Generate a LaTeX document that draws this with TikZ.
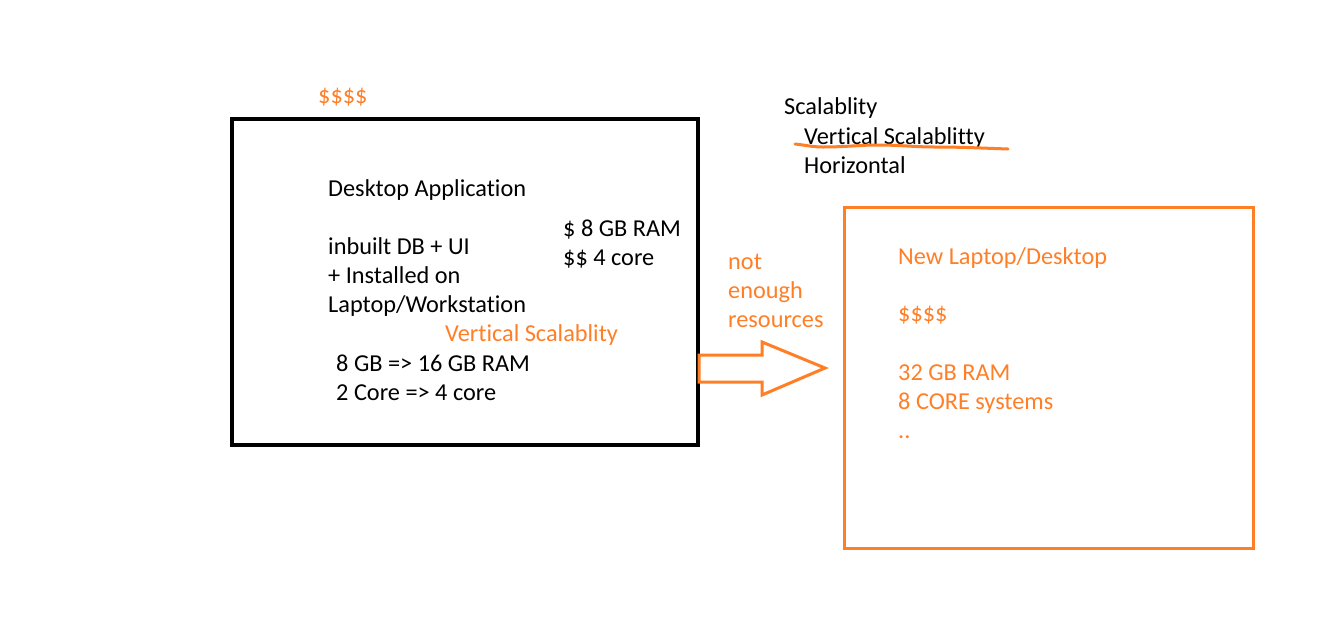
\documentclass[tikz,border=0pt]{standalone}
\usepackage{fontspec}
\setmainfont{Carlito}[Ligatures=NoCommon]
\definecolor{paintorange}{RGB}{255,127,39}
\begin{document}
\begin{tikzpicture}[x=1pt,y=-1pt,
  txt/.style={anchor=base west,inner sep=0pt,font=\fontsize{24.3}{29}\selectfont},
  otxt/.style={txt,text=paintorange},
  blackbox/.style={draw=black,line width=4pt},
  orangebox/.style={draw=paintorange,line width=3pt},
  bigarrow/.style={draw=paintorange,line width=3pt,line join=miter}]
\useasboundingbox[fill=white] (0,0) rectangle (1320,641);
% left box
\draw[blackbox] (232,119) rectangle (698,445);
% right box
\draw[orangebox] (844,207) rectangle (1253,548);
% arrow
\draw[bigarrow] (699,355) -- (762,355) -- (762,342) -- (825,368) -- (762,395) -- (762,382) -- (699,382) -- cycle;
% left texts
\node[otxt] (d1) at (318,103) {\$\$\$\$};
\node[txt] (t1) at (328,196) {Desktop Application};
\node[txt] (t2) at (328,254) {inbuilt DB + UI};
\node[txt] (t3) at (328,283) {+ Installed on};
\node[txt] (t4) at (328,312) {Laptop/Workstation};
\node[txt] (r1) at (563,236) {\$ 8 GB RAM};
\node[txt] (r2) at (563,265) {\$\$ 4 core};
\node[otxt] (vs) at (445,341) {Vertical Scalablity};
\node[txt] (u1) at (336,371) {8 GB => 16 GB RAM};
\node[txt] (u2) at (336,400) {2 Core => 4 core};
% middle
\node[otxt] (n1) at (728,269) {not};
\node[otxt] (n2) at (728,298) {enough};
\node[otxt] (n3) at (728,327) {resources};
% top right
\node[txt] (s1) at (784,114) {Scalablity};
\node[txt] (s2) at (804,144) {Vertical Scalablitty};
\node[txt] (s3) at (804,173) {Horizontal};
\draw[paintorange,line width=3pt,line cap=round] (795,144) .. controls (805,145) and (812,147) .. (823,147) .. controls (845,147) and (860,145) .. (877,145) .. controls (900,145) and (915,147) .. (935,147) .. controls (960,147) and (980,148) .. (1008,149);
% right box texts
\node[otxt] (o1) at (898,264) {New Laptop/Desktop};
\node[otxt] (o2) at (898,321) {\$\$\$\$};
\node[otxt] (o3) at (898,380) {32 GB RAM};
\node[otxt] (o4) at (898,409) {8 CORE systems};
\node[otxt] (o5) at (898,438) {..};
\end{tikzpicture}
\end{document}
